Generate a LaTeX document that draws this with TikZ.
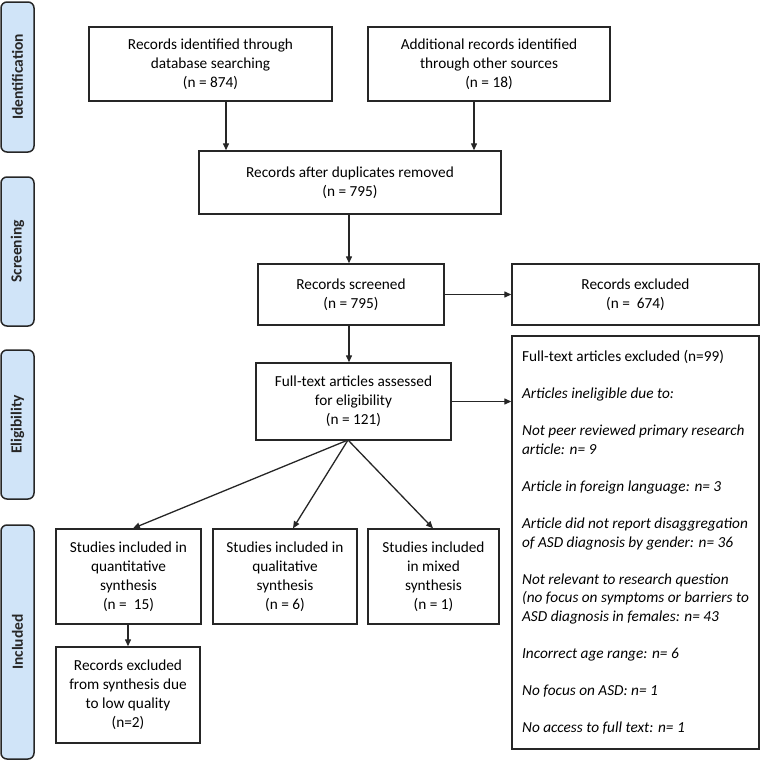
\documentclass[tikz,border=0pt]{standalone}
\usepackage{fontspec}
\setmainfont{Carlito}
\usetikzlibrary{arrows.meta}
\definecolor{sidefill}{HTML}{D0E4F8}
\definecolor{lin}{HTML}{262626}
\tikzset{
  box/.style={draw=lin, line width=1.4pt, fill=white, align=center, inner sep=0pt,
    font=\fontsize{15.3}{19}\selectfont},
  side/.style={draw=lin, line width=1.5pt, fill=sidefill, rounded corners=6pt, inner sep=0pt},
  sidetext/.style={rotate=90, font=\fontsize{15.5}{17}\selectfont\bfseries, text=lin},
  arr/.style={draw=lin, line width=1.3pt, -{Triangle[length=7pt,width=6pt]}},
}
\begin{document}
\begin{tikzpicture}[x=1pt,y=-1pt]
\useasboundingbox (0,0) rectangle (762,763);
% side labels
\node[side, minimum width=33pt, minimum height=150pt] (sid) at (17.5,77) {};
\node[sidetext] (tid) at (sid.center) {Identification};
\node[side, minimum width=33pt, minimum height=149pt] (ssc) at (17.5,251.5) {};
\node[sidetext] (tsc) at (ssc.center) {Screening};
\node[side, minimum width=33pt, minimum height=149pt] (sel) at (17.5,424.5) {};
\node[sidetext] (tel) at (sel.center) {Eligibility};
\node[side, minimum width=33pt, minimum height=234pt] (sin) at (17.5,642) {};
\node[sidetext] (tin) at (sin.center) {Included};
% boxes
\node[box, minimum width=243pt, minimum height=74pt] (b1) at (210.5,64) {Records identified through\\database searching\\(n = 874)};
\node[box, minimum width=242pt, minimum height=74pt] (b2) at (489,64) {Additional records identified\\through other sources\\(n = 18)};
\node[box, minimum width=302pt, minimum height=63pt] (b3) at (350,182.5) {Records after duplicates removed\\(n = 795)};
\node[box, minimum width=186pt, minimum height=61pt] (b4) at (351,294.5) {Records screened\\(n = 795)};
\node[box, minimum width=247pt, minimum height=61pt] (b5) at (635.5,294.5) {Records excluded\\(n = \ 674)};
\node[box, minimum width=195pt, minimum height=77pt] (b6) at (353.5,401.5) {Full-text articles assessed\\for eligibility\\(n = 121)};
\node[box, minimum width=247pt, minimum height=413pt, align=left, font=\fontsize{15.3}{18.55}\selectfont] (b7) at (635.5,542.5) {Full-text articles excluded (n=99)\\[18.55pt]
\textit{Articles ineligible due to:}\\[18.55pt]
\textit{Not peer reviewed primary research}\\
\textit{article: n= 9}\\[18.55pt]
\textit{Article in foreign language: n= 3}\\[18.55pt]
\textit{Article did not report disaggregation}\\
\textit{of ASD diagnosis by gender: n= 36}\\[18.55pt]
\textit{Not relevant to research question}\\
\textit{(no focus on symptoms or barriers to}\\
\textit{ASD diagnosis in females: n= 43}\\[18.55pt]
\textit{Incorrect age range: n= 6}\\[18.55pt]
\textit{No focus on ASD: n= 1}\\[18.55pt]
\textit{No access to full text: n= 1}};
\node[box, minimum width=145pt, minimum height=95pt] (b8) at (128.5,576.5) {Studies included in\\quantitative\\synthesis\\(n = \ 15)};
\node[box, minimum width=144pt, minimum height=95pt] (b9) at (285,576.5) {Studies included in\\qualitative\\synthesis\\(n = 6)};
\node[box, minimum width=131pt, minimum height=95pt] (b10) at (433.5,576.5) {Studies included\\in mixed\\synthesis\\(n = 1)};
\node[box, minimum width=144pt, minimum height=96pt] (b11) at (128,695) {Records excluded\\from synthesis due\\to low quality\\(n=2)};
% connectors
\draw[arr] (b1.south -| 226,0) -- (b3.north -| 226,0);
\draw[arr] (b2.south -| 474,0) -- (b3.north -| 474,0);
\draw[arr] (b3.south -| 349,0) -- (b4.north -| 349,0);
\draw[arr] (b4.south -| 349,0) -- (b6.north -| 349,0);
\draw[arr] (b4.east) -- (b5.west);
\draw[arr] (b6.east) -- (b7.west |- b6.east);
\coordinate (fan) at (348,440);
\draw[arr] (fan) -- (b8.north -| 133,0);
\draw[arr] (fan) -- (b9.north -| 293,0);
\draw[arr] (fan) -- (b10.north -| 433,0);
\draw[arr] (b8.south -| 128,0) -- (b11.north -| 128,0);
\end{tikzpicture}
\end{document}
